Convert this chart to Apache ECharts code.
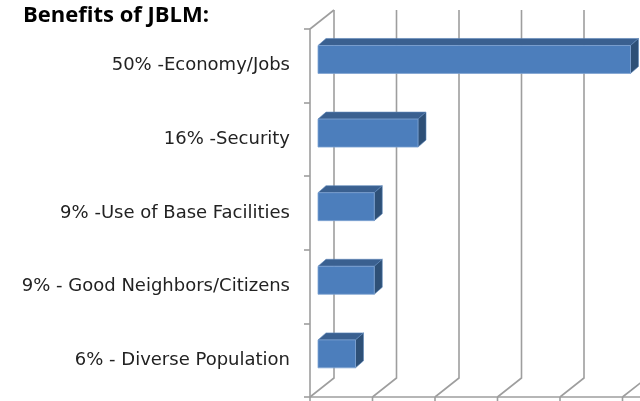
<!DOCTYPE html>
<html lang="en">
<head>
    <meta charset="utf-8">
    <title>Benefits of JBLM</title>
    <script src="https://cdn.jsdelivr.net/npm/echarts@6/dist/echarts.min.js"></script>
</head>
<body style="margin:0">
<div id="main" style="width:640px;height:401px;"></div>

<script type="text/javascript">
    // data
    var categories = ['50% -Economy/Jobs', '16% -Security', '9% -Use of Base Facilities',
        '9% - Good Neighbors/Citizens', '6% - Diverse Population'];
    var values = [50, 16, 9, 9, 6];
    var xTicks = [0, 10, 20, 30, 40, 50, 60];

    // fake 3D depth of the floor / walls (pixels)
    var DX = 24, DY = -19;
    var GRID_COLOR = '#9e9e9e';

    var myChart = echarts.init(document.getElementById('main'));

    var frameData = xTicks.map(function (v) { return [v]; });
    var barData = values.map(function (v, i) { return [v, i]; });

    myChart.setOption({
        animation: false,
        title: {
            text: 'Benefits of JBLM:',
            left: 18, top: 0,
            textStyle: { fontSize: 22, fontWeight: 'bold', color: '#000', fontFamily: 'Open Sans' }
        },
        // axis runs 0..50 inside the canvas, the 60 line is drawn past the right edge
        grid: { left: 310, top: 29, width: 312.5, height: 368 },
        xAxis: {
            type: 'value', min: 0, max: 50, interval: 10,
            axisLine: { show: false },
            axisTick: { show: false },
            axisLabel: { show: false },
            splitLine: { show: false }
        },
        yAxis: {
            type: 'category', inverse: true, data: categories,
            axisLine: { show: true, lineStyle: { color: GRID_COLOR, width: 1.6 } },
            axisTick: { show: true, length: 6, lineStyle: { color: GRID_COLOR, width: 1.6 } },
            axisLabel: {
                margin: 20, color: '#222', fontSize: 18, fontFamily: 'DejaVu Sans',
                padding: [4, 0, 0, 0]
            }
        },
        series: [{
            // back wall gridlines, floor diagonals and front floor edge
            type: 'custom',
            data: frameData,
            z: 1,
            silent: true,
            renderItem: function (params, api) {
                var cs = params.coordSys;
                var v = api.value(0);
                var x = api.coord([v, 0])[0];
                var top = cs.y, bottom = cs.y + cs.height;
                var line = { stroke: GRID_COLOR, lineWidth: 1.6, fill: null };
                var children = [{
                    type: 'polyline',
                    shape: { points: [[x + DX, top + DY], [x + DX, bottom + DY], [x, bottom]] },
                    style: line
                }, {
                    type: 'line',
                    shape: { x1: x, y1: bottom, x2: x, y2: bottom + 6 },
                    style: line
                }];
                if (v === 0) {
                    var xEnd = api.coord([xTicks[xTicks.length - 1], 0])[0];
                    children.push({
                        type: 'line',
                        shape: { x1: x, y1: top, x2: x + DX, y2: top + DY },
                        style: line
                    }, {
                        type: 'line',
                        shape: { x1: x, y1: bottom, x2: xEnd, y2: bottom },
                        style: line
                    });
                }
                return { type: 'group', children: children };
            }
        }, {
            // 3D-looking bars
            type: 'custom',
            data: barData,
            z: 2,
            renderItem: function (params, api) {
                var f = 1 / 3;
                var bx = 8, by = -7;
                var c = api.coord([0, api.value(1)]);
                var band = api.size([0, 1])[1];
                var h = band * 0.38;
                var x0 = c[0] + f * DX;
                var x1 = api.coord([api.value(0), api.value(1)])[0] + f * DX;
                var yt = c[1] - h / 2 + f * DY;
                var yb = yt + h;
                return {
                    type: 'group',
                    children: [{
                        type: 'polygon',
                        shape: { points: [[x0, yt], [x1, yt], [x1 + bx, yt + by], [x0 + bx, yt + by]] },
                        style: { fill: '#3a6090', stroke: '#5d86bb', lineWidth: 0.6 }
                    }, {
                        type: 'polygon',
                        shape: { points: [[x1, yt], [x1 + bx, yt + by], [x1 + bx, yb + by], [x1, yb]] },
                        style: { fill: '#2e5077', stroke: '#5d86bb', lineWidth: 0.6 }
                    }, {
                        type: 'rect',
                        shape: { x: x0, y: yt, width: x1 - x0, height: h },
                        style: { fill: '#4c7ebc', stroke: '#7fa3d2', lineWidth: 0.8 }
                    }]
                };
            }
        }]
    });
</script>
</body>
</html>
